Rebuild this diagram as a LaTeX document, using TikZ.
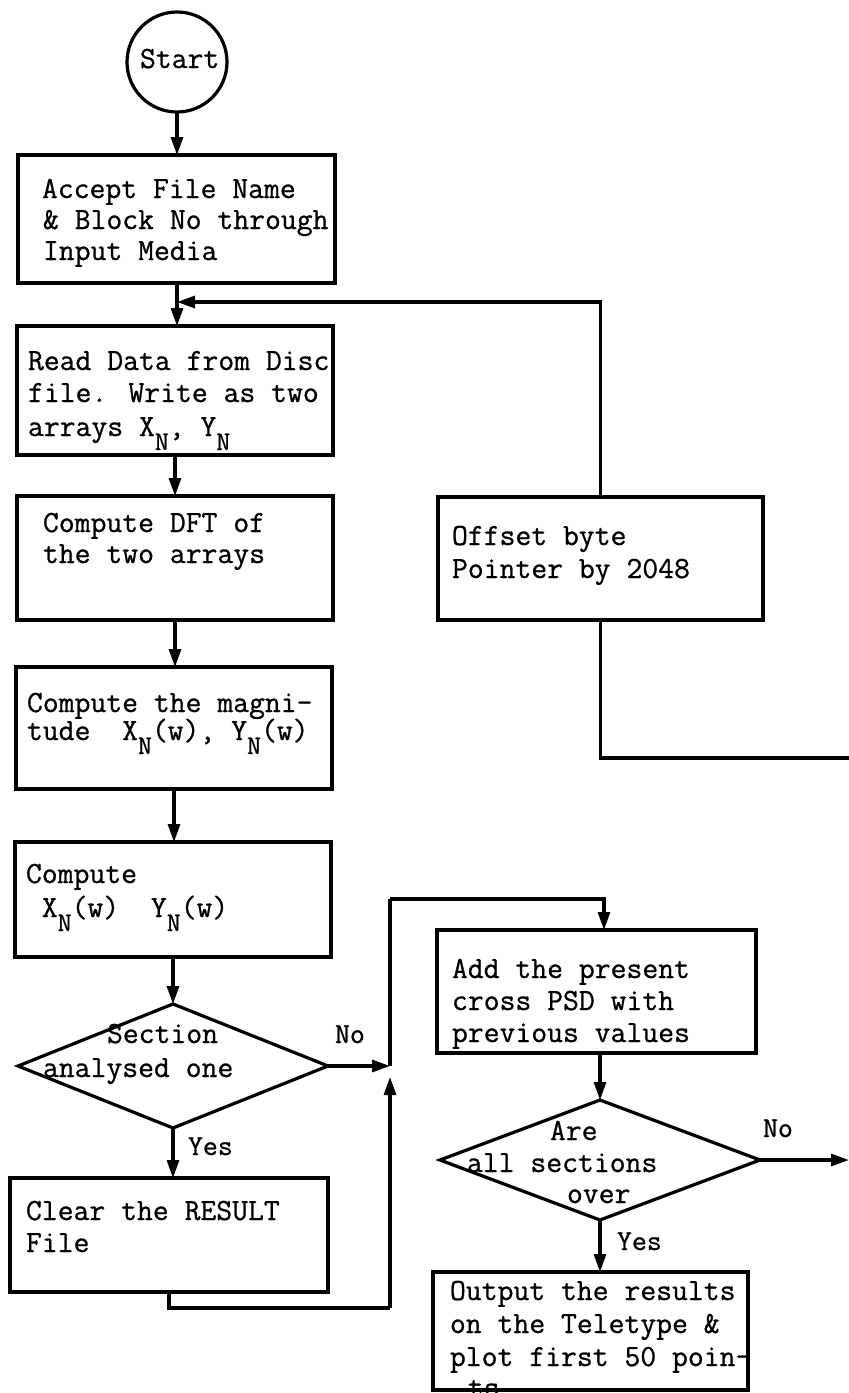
\documentclass[tikz,border=0pt]{standalone}
\usepackage{fontspec}
\newfontfamily\twfont[FakeBold=0.8]{Latin Modern Mono}
\usetikzlibrary{shapes.geometric,arrows.meta}
\newcommand{\subN}{\raisebox{-14pt}{\fontsize{27}{27}\selectfont N}}
\tikzset{
  lw/.style={line width=3.2pt},
  boxnode/.style={draw, lw, rectangle, inner sep=0pt, outer sep=0pt},
  decnode/.style={draw, lw, diamond, inner sep=0pt, outer sep=0pt},
  startnode/.style={draw, lw, circle, inner sep=0pt, outer sep=0pt, minimum size=100pt},
  txt/.style={inner sep=0pt, outer sep=0pt, anchor=base west, font=\twfont\fontsize{30.8}{34}\selectfont},
  lbl/.style={inner sep=0pt, outer sep=0pt, anchor=base west, font=\twfont\fontsize{29}{32}\selectfont},
  arr/.style={lw, -{Triangle[length=18pt,width=12pt]}},
  ln/.style={lw}
}
\begin{document}
\begin{tikzpicture}[x=1pt,y=-1pt]
\useasboundingbox (0,0) rectangle (849,1393);
\fill[white] (0,0) rectangle (849,1393);

% nodes
\node[startnode] (start) at (177,62) {};
\node[txt] (startt) at (140,68) {Start};

\node[boxnode, minimum width=317pt, minimum height=128pt] (b1) at (176.5,219) {};
\node[txt] (b1a) at (42,198) {Accept File Name};
\node[txt] (b1b) at (43,229) {\& Block No through};
\node[txt] (b1c) at (43,260) {Input Media};

\node[boxnode, minimum width=316pt, minimum height=129pt] (b2) at (175,390.5) {};
\node[txt] (b2a) at (28,370) {Read Data from Disc};
\node[txt] (b2b) at (28,402) {file. Write as two};
\node[txt] (b2c) at (28,436) {arrays X\subN, Y\subN};

\node[boxnode, minimum width=316pt, minimum height=124pt] (b3) at (175,558) {};
\node[txt] (b3a) at (43,532) {Compute DFT of};
\node[txt] (b3b) at (43,563) {the two arrays};

\node[boxnode, minimum width=316pt, minimum height=122pt] (b4) at (174,728) {};
\node[txt] (b4a) at (27,712) {Compute the magni-};
\node[txt] (b4b) at (27,740) {tude~~X\subN(w), Y\subN(w)};

\node[boxnode, minimum width=316pt, minimum height=115pt] (b5) at (173,899.5) {};
\node[txt] (b5a) at (26,883) {Compute};
\node[txt] (b5b) at (26,917) {~X\subN(w)~~Y\subN(w)};

\node[decnode, minimum width=310pt, minimum height=124pt] (d1) at (173,1066) {};
\node[txt] (d1a) at (107,1043) {Section};
\node[txt] (d1b) at (43,1077) {analysed one};
\node[lbl] (d1no) at (335,1043) {No};
\node[lbl] (d1yes) at (188,1155) {Yes};

\node[boxnode, minimum width=318pt, minimum height=114pt] (b6) at (169,1235) {};
\node[txt] (b6a) at (26,1220) {Clear the RESULT};
\node[txt] (b6b) at (26,1252) {File};

\node[boxnode, minimum width=325pt, minimum height=123pt] (off) at (600.5,558.5) {};
\node[txt] (offa) at (452,545) {Offset byte};
\node[txt] (offb) at (452,578) {Pointer by 2048};

\node[boxnode, minimum width=319pt, minimum height=123pt] (b7) at (596.5,991.5) {};
\node[txt] (b7a) at (452,978) {Add the present};
\node[txt] (b7b) at (452,1010) {cross PSD with};
\node[txt] (b7c) at (452,1042) {previous values};

\node[decnode, minimum width=320pt, minimum height=120pt] (d2) at (600,1160) {};
\node[txt] (d2a) at (550,1140) {Are};
\node[txt] (d2b) at (467,1172) {all sections};
\node[txt] (d2c) at (567,1203) {over};
\node[lbl] (d2no) at (763,1137) {No};
\node[lbl] (d2yes) at (617,1250) {Yes};

\node[boxnode, minimum width=315pt, minimum height=118pt] (b8) at (590.5,1331) {};
\node[txt] (b8a) at (450,1300) {Output the results};
\node[txt] (b8b) at (450,1333) {on the Teletype \&};
\node[txt] (b8c) at (450,1366) {plot first 50 poin-};
\node[txt] (b8d) at (468,1397) {ts};

% coordinates
\coordinate (j1) at (177,302);
\coordinate (e1) at (849,758);
\coordinate (m1) at (390,1066);
\coordinate (lb) at (390,1308);
\coordinate (la) at (390,1077);
\coordinate (lt) at (390,899);
\coordinate (b7in) at (604,930);
\coordinate (e2) at (849,1160);

% connectors
\draw[arr] (start.south) -- (start.south |- b1.north);
\draw[ln] (b1.south -| j1) -- (j1);
\draw[arr] (j1) -- (j1 |- b2.north);
\draw[arr] (off.north) |- (j1);
\draw[ln] (off.south) |- (e1);
\draw[arr] (b2.south) -- (b2.south |- b3.north);
\draw[arr] (b3.south) -- (b3.south |- b4.north);
\draw[arr] (b4.south) -- (b4.south |- b5.north);
\draw[arr] (b5.south) -- (b5.south |- d1.north);
\draw[arr] (d1.east) -- (m1);
\draw[arr] (d1.south) -- (d1.south |- b6.north);
\draw[ln] (b6.south) |- (lb);
\draw[arr] (lb) -- (la);
\draw[ln] (m1) -- (lt);
\draw[arr] (lt) -| (b7in);
\draw[arr] (b7.south -| d2.north) -- (d2.north);
\draw[arr] (d2.south) -- (d2.south |- b8.north);
\draw[arr] (d2.east) -- (e2);
\end{tikzpicture}
\end{document}
